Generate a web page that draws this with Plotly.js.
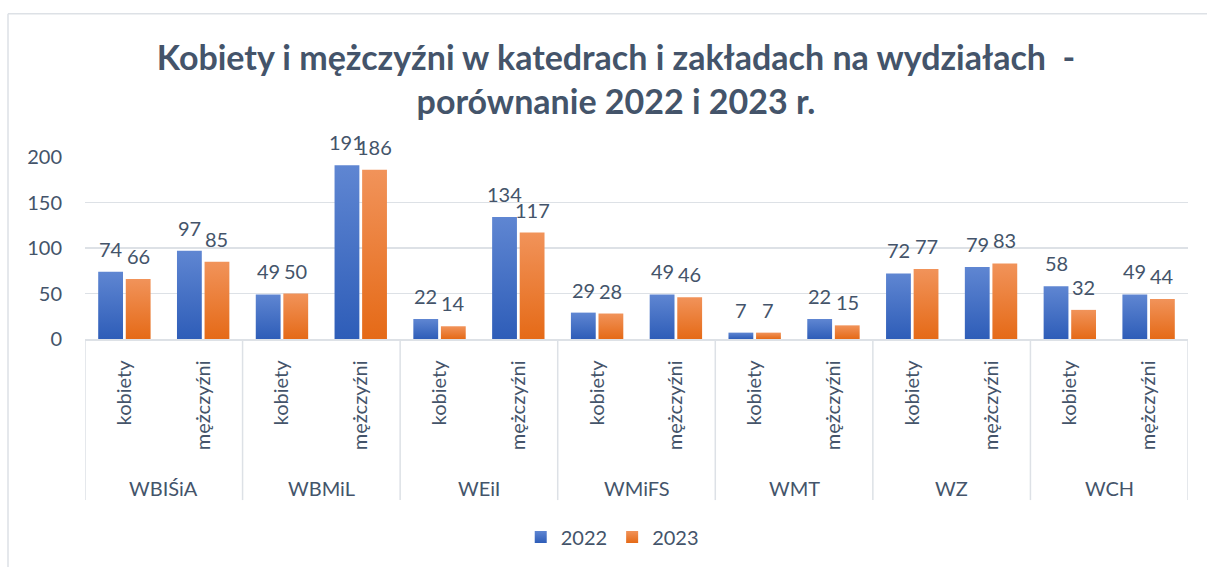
<!DOCTYPE html>
<html>
<head>
<meta charset="utf-8">
<script src="https://cdn.plot.ly/plotly-3.0.1.min.js"></script>
<style>
  html, body { margin: 0; padding: 0; background: #ffffff; }
  #chart { width: 1208px; height: 567px; }
</style>
</head>
<body>
<div id="chart"></div>
<script>
// ---- data ----
const faculties = ["WBIŚiA", "WBMiL", "WEiI", "WMiFS", "WMT", "WZ", "WCH"];
const genders = ["kobiety", "mężczyźni"];
const seriesNames = ["2022", "2023"];
const values2022 = [74, 97, 49, 191, 22, 134, 29, 49, 7, 22, 72, 79, 58, 49];
const values2023 = [66, 85, 50, 186, 14, 117, 28, 46, 7, 15, 77, 83, 32, 44];
const yTicks = [0, 50, 100, 150, 200];

// ---- derived category structure ----
const innerLabels = [];
const groupOf = [];
faculties.forEach(f => genders.forEach(g => { innerLabels.push(g); groupOf.push(f); }));
const xIdx = innerLabels.map((_, i) => i);

const FONT = "Lato, 'Open Sans', sans-serif";
const TXT = "#44546A";
const GRID = "#DDE1E6";
const bargap = 0.3, bargroupgap = 0.1;
const slot = (1 - bargap) / 2;

const traces = [
  { type: "bar", name: seriesNames[0], x: xIdx, y: values2022,
    marker: { color: "#4472C4" }, hoverinfo: "y" },
  { type: "bar", name: seriesNames[1], x: xIdx, y: values2023,
    marker: { color: "#ED7D31" }, hoverinfo: "y" }
];

const annotations = [];
[values2022, values2023].forEach((vals, s) => {
  vals.forEach((v, i) => {
    annotations.push({
      x: i + (s === 0 ? -slot / 2 : slot / 2), y: v, xref: "x", yref: "y",
      text: String(v), showarrow: false, yanchor: "bottom", yshift: 9,
      font: { family: FONT, size: 20, color: TXT }
    });
  });
});
faculties.forEach((f, k) => {
  annotations.push({
    x: 2 * k + 0.5, y: -0.82, xref: "x", yref: "paper",
    text: f, showarrow: false, yanchor: "middle",
    font: { family: FONT, size: 20, color: TXT }
  });
});

const shapes = [];
for (let k = 0; k <= faculties.length; k++) {
  shapes.push({ type: "line", xref: "x", yref: "paper",
    x0: 2 * k - 0.5, x1: 2 * k - 0.5, y0: 0, y1: -0.885,
    line: { color: GRID, width: 1.5 } });
}
// chart-area border (top and left)
shapes.push({ type: "line", xref: "paper", yref: "paper",
  x0: -77 / 1103, x1: 1207 / 1103 - 85 / 1103, y0: 327 / 183, y1: 327 / 183,
  line: { color: GRID, width: 1.5 } });
shapes.push({ type: "line", xref: "paper", yref: "paper",
  x0: -77 / 1103, x1: -77 / 1103, y0: 327 / 183, y1: -230 / 183,
  line: { color: GRID, width: 1.5 } });

const layout = {
  width: 1208, height: 567,
  margin: { l: 85, r: 20, t: 157, b: 227 },
  paper_bgcolor: "#ffffff", plot_bgcolor: "#ffffff",
  font: { family: FONT, size: 20, color: TXT },
  title: {
    text: "<b>Kobiety i mężczyźni w katedrach i zakładach na wydziałach  -<br>porównanie 2022 i 2023 r.</b>",
    font: { family: FONT, size: 34, color: TXT },
    x: 616 / 1208, xref: "container", xanchor: "center",
    y: 1 - 70 / 567, yref: "container", yanchor: "top"
  },
  barmode: "group", bargap: bargap, bargroupgap: bargroupgap,
  showlegend: true,
  legend: { orientation: "h", x: 0.478, xanchor: "center", y: -1.076, yanchor: "middle",
    font: { family: FONT, size: 20, color: TXT }, itemclick: false, itemwidth: 30 },
  xaxis: {
    type: "linear", range: [-0.5, innerLabels.length - 0.5],
    tickmode: "array", tickvals: xIdx, ticktext: innerLabels, tickangle: -90,
    ticks: "outside", ticklen: 12, tickcolor: "rgba(0,0,0,0)",
    showgrid: false, zeroline: false, showline: true, linecolor: GRID, linewidth: 1.5,
    tickfont: { family: FONT, size: 20, color: TXT }, fixedrange: true
  },
  yaxis: {
    range: [0, 200], tickmode: "array", tickvals: yTicks,
    showgrid: true, gridcolor: GRID, gridwidth: 1.5, zeroline: false, showline: false,
    ticks: "outside", ticklen: 18, tickcolor: "rgba(0,0,0,0)",
    tickfont: { family: FONT, size: 20, color: TXT }, fixedrange: true
  },
  annotations: annotations,
  shapes: shapes
};

Plotly.newPlot("chart", traces, layout, { displayModeBar: false, staticPlot: true }).then(gd => {
  // vertical gradient fill like the original office chart
  const svg = gd.querySelector("svg.main-svg");
  const ns = "http://www.w3.org/2000/svg";
  let defs = svg.querySelector("defs");
  if (!defs) { defs = document.createElementNS(ns, "defs"); svg.insertBefore(defs, svg.firstChild); }
  const grads = [["gBlue", "#5F86D2", "#2E5DB8"], ["gOrange", "#F1935A", "#E56A17"]];
  grads.forEach(([id, c1, c2]) => {
    const lg = document.createElementNS(ns, "linearGradient");
    lg.setAttribute("id", id); lg.setAttribute("x1", "0"); lg.setAttribute("y1", "0");
    lg.setAttribute("x2", "0"); lg.setAttribute("y2", "1");
    [[0, c1], [1, c2]].forEach(([o, c]) => {
      const st = document.createElementNS(ns, "stop");
      st.setAttribute("offset", o); st.setAttribute("stop-color", c);
      lg.appendChild(st);
    });
    defs.appendChild(lg);
  });
  const barTraces = gd.querySelectorAll(".barlayer .trace.bars");
  barTraces.forEach((t, k) => {
    t.querySelectorAll("path").forEach(p => { p.style.fill = `url(#${grads[k][0]})`; });
  });
  const legendBars = gd.querySelectorAll(".legend .traces");
  legendBars.forEach((t, k) => {
    t.querySelectorAll(".legendpoints path").forEach(p => { p.style.fill = `url(#${grads[k][0]})`; p.style.stroke = "none"; });
  });
});
</script>
</body>
</html>
